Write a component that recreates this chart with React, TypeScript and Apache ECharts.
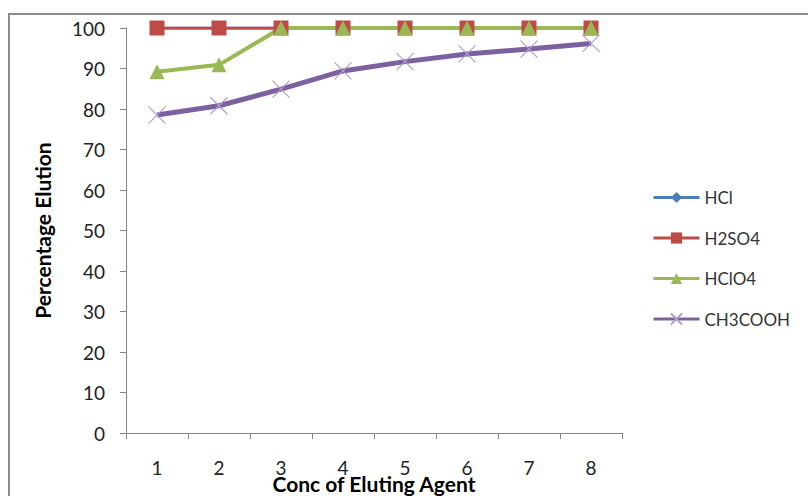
import React, { useEffect, useRef } from "react";
import * as echarts from "echarts";

const categories = ["1", "2", "3", "4", "5", "6", "7", "8"];
const hclValues = [100, 100, 100, 100, 100, 100, 100, 100];
const h2so4Values = [100, 100, 100, 100, 100, 100, 100, 100];
const hclo4Values = [89.2, 90.9, 100, 100, 100, 100, 100, 100];
const ch3coohValues = [78.5, 80.8, 84.9, 89.4, 91.7, 93.6, 94.8, 96.2];
const seriesNames = ["HCl", "H2SO4", "HClO4", "CH3COOH"];

const FONT = "Lato, 'Noto Sans', sans-serif";

export default function App() {
  const ref = useRef<HTMLDivElement>(null);
  useEffect(() => {
    if (!ref.current) return;
    const chart = echarts.init(ref.current, undefined, { renderer: "svg" });
    const crossPath = "path://M0,0L10,10M10,0L0,10";
    chart.setOption({
      animation: false,
      backgroundColor: "#ffffff",
      textStyle: { fontFamily: FONT },
      graphic: [
        {
          type: "line",
          shape: { x1: 8, y1: 14, x2: 808, y2: 14 },
          style: { stroke: "#8c8c8c", lineWidth: 2 },
        },
        {
          type: "line",
          shape: { x1: 9, y1: 13, x2: 9, y2: 496 },
          style: { stroke: "#8c8c8c", lineWidth: 2 },
        },
      ],
      grid: { left: 126, right: 186, top: 28, bottom: 63, outerBoundsMode: "none", containLabel: false },
      legend: {
        orient: "vertical",
        left: 647,
        top: 184,
        itemWidth: 46,
        itemHeight: 14,
        itemGap: 23.5,
        lineStyle: { width: 3 },
        textStyle: { fontFamily: FONT, fontSize: 17, color: "#333" },
        data: seriesNames,
      },
      xAxis: {
        type: "category",
        data: categories,
        boundaryGap: true,
        name: "Conc of Eluting Agent",
        nameLocation: "middle",
        nameGap: 40,
        nameMoveOverlap: false,
        nameTextStyle: { fontFamily: FONT, fontSize: 21, fontWeight: "bold", color: "#000" },
        axisLine: { lineStyle: { color: "#868686", width: 1 } },
        axisTick: { show: true, interval: 0, length: 6, lineStyle: { color: "#868686" } },
        axisLabel: { margin: 25, fontFamily: FONT, fontSize: 19, color: "#222" },
        splitLine: { show: false },
      },
      yAxis: {
        type: "value",
        min: 0,
        max: 100,
        interval: 10,
        name: "Percentage Elution",
        nameLocation: "middle",
        nameGap: 73,
        nameMoveOverlap: false,
        nameRotate: 90,
        nameTextStyle: { fontFamily: FONT, fontSize: 21, fontWeight: "bold", color: "#000" },
        axisLine: { show: true, lineStyle: { color: "#868686", width: 1 } },
        axisTick: { show: true, length: 6, lineStyle: { color: "#868686" } },
        axisLabel: { margin: 21, fontFamily: FONT, fontSize: 19, color: "#222" },
        splitLine: { show: false },
      },
      series: [
        {
          name: seriesNames[0],
          type: "line",
          data: hclValues,
          symbol: "diamond",
          symbolSize: 12,
          color: "#4a7ebb",
          lineStyle: { width: 3, color: "#4a7ebb" },
          itemStyle: { color: "#4a7ebb" },
        },
        {
          name: seriesNames[1],
          type: "line",
          data: h2so4Values,
          symbol: "rect",
          symbolSize: 15,
          color: "#be4b48",
          lineStyle: { width: 3, color: "#be4b48" },
          itemStyle: { color: "#be4b48" },
        },
        {
          name: seriesNames[2],
          type: "line",
          data: hclo4Values,
          symbol: "triangle",
          symbolSize: 15,
          color: "#98b954",
          lineStyle: { width: 4, color: "#98b954" },
          itemStyle: { color: "#98b954" },
        },
        {
          name: seriesNames[3],
          type: "line",
          data: ch3coohValues,
          symbol: crossPath,
          symbolSize: 17,
          color: "#7d60a0",
          lineStyle: { width: 5, color: "#7d60a0" },
          itemStyle: { color: "none", borderColor: "#ab9fc8", borderWidth: 1.2 },
        },
      ],
    });
    return () => chart.dispose();
  }, []);
  return (
    <div
      ref={ref}
      style={{ position: "fixed", left: 0, top: 0, width: 808, height: 496, background: "#fff" }}
    />
  );
}
